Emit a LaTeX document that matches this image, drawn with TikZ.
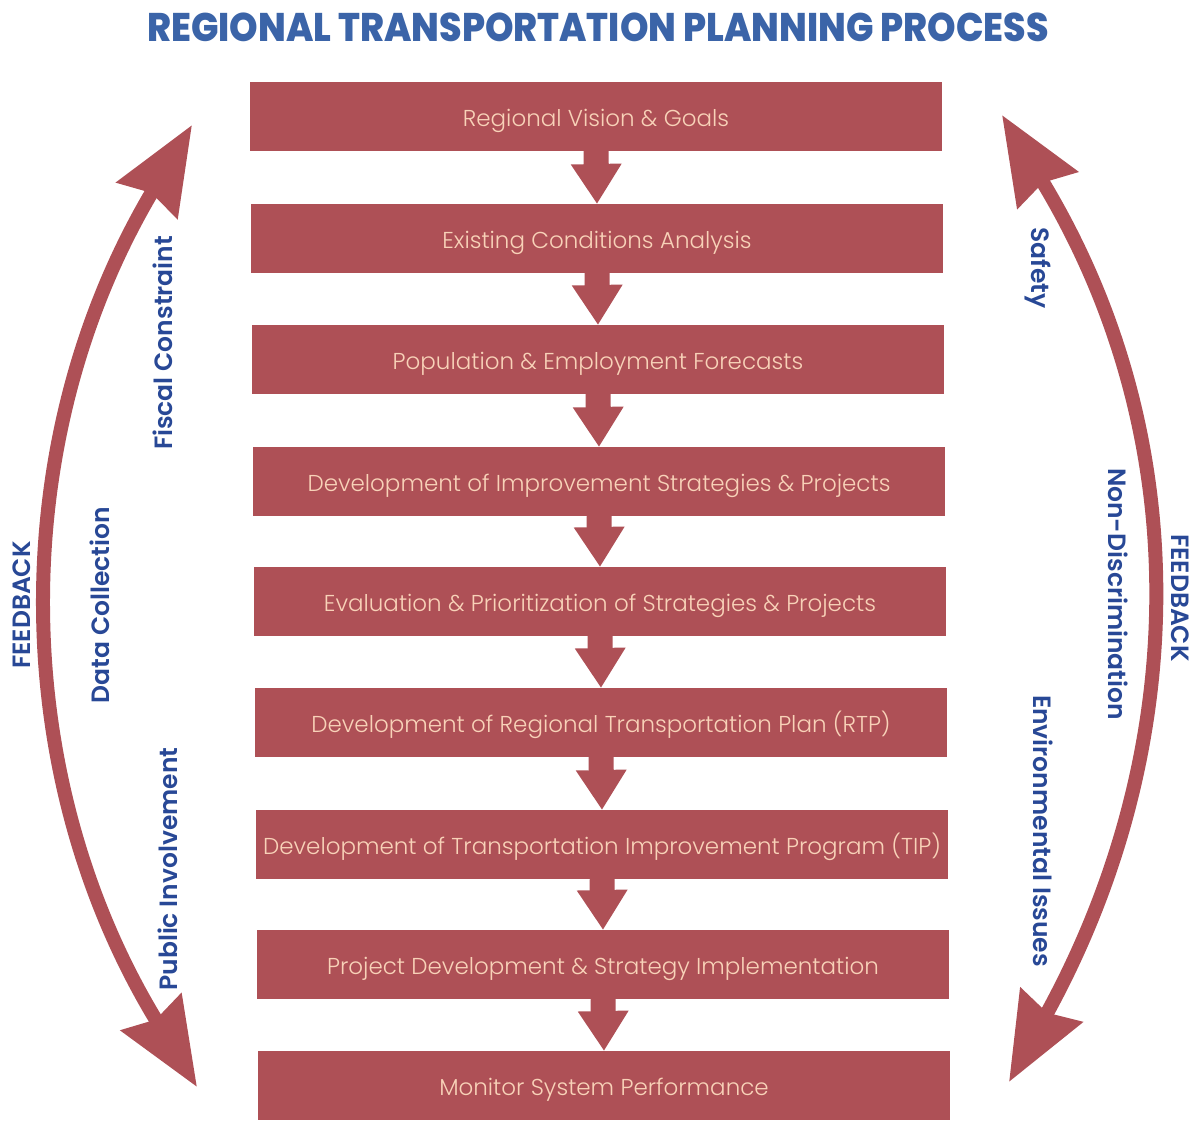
\documentclass[tikz,border=0pt]{standalone}
\usepackage{fontspec}
\usetikzlibrary{arrows.meta}
\setmainfont{Poppins}
\IfFontExistsTF{Poppins Light}{\newfontfamily\stepfont{Poppins Light}}{\newfontfamily\stepfont{Poppins}}
\IfFontExistsTF{Poppins SemiBold}{\newfontfamily\sidefont{Poppins SemiBold}}{\newfontfamily\sidefont{Poppins}[FakeBold=1]}
\IfFontExistsTF{Poppins ExtraBold}{\newfontfamily\headfont{Poppins ExtraBold}}{\newfontfamily\headfont{Poppins}[FakeBold=2]}

\definecolor{boxred}{RGB}{174,80,86}
\definecolor{peach}{RGB}{248,210,184}
\definecolor{headblue}{RGB}{59,100,168}
\definecolor{sideblue}{RGB}{40,72,150}

\tikzset{
  stepbox/.style={fill=boxred, minimum width=692pt, minimum height=69pt,
    inner sep=0pt, outer sep=0pt, text=peach,
    text height=22pt, text depth=2pt,
    font=\stepfont\fontsize{23}{27}\selectfont},
  flow/.style={draw=boxred, line width=25pt,
    -{Triangle[length=40pt,width=48pt]}},
  loopback/.style={draw=boxred, line width=14pt,
    {Stealth[length=87pt,width=69pt,inset=8pt]}-{Stealth[length=87pt,width=69pt,inset=8pt]}},
  sidelabel/.style={text=sideblue, inner sep=0pt,
    font=\sidefont\fontsize{25}{29}\selectfont},
}

\begin{document}
\begin{tikzpicture}[x=1pt,y=-1pt]
\useasboundingbox (0,0) rectangle (1196,1122);

% title
\node[text=headblue, font=\headfont\fontsize{36.3}{42}\selectfont, inner sep=0pt,
  yscale=1.1] (title) at (598,27) {REGIONAL TRANSPORTATION PLANNING PROCESS};

% process steps
\node[stepbox] (s1) at (596,116.5) {Regional Vision \& Goals};
\node[stepbox] (s2) at (597,238.5) {Existing Conditions Analysis};
\node[stepbox] (s3) at (598,359.5) {Population \& Employment Forecasts};
\node[stepbox] (s4) at (599,481.5) {Development of Improvement Strategies \& Projects};
\node[stepbox] (s5) at (600,601.5) {Evaluation \& Prioritization of Strategies \& Projects};
\node[stepbox] (s6) at (601,722.5) {Development of Regional Transportation Plan (RTP)};
\node[stepbox] (s7) at (602,844.5) {Development of Transportation Improvement Program (TIP)};
\node[stepbox] (s8) at (603,964.5) {Project Development \& Strategy Implementation};
\node[stepbox] (s9) at (604,1085.5) {Monitor System Performance};

% downward flow between steps
\foreach \a/\b in {s1/s2,s2/s3,s3/s4,s4/s5,s5/s6,s6/s7,s7/s8,s8/s9}
  \draw[flow] (\a.south) -- (\b.north);

% feedback loops
\coordinate (lt) at (192,125);
\coordinate (lb) at (197,1087);
\coordinate (rt) at (1002,115);
\coordinate (rb) at (1009,1082);
\draw[loopback] (lt) .. controls (3,442) and (8,778) .. (lb);
\draw[loopback] (rt) .. controls (1197,436) and (1191,752) .. (rb);

% left side labels
\node[sidelabel, rotate=90] (fiscal) at (163,343) {Fiscal Constraint};
\node[sidelabel, rotate=90] (fbl) at (22,605) {FEEDBACK};
\node[sidelabel, rotate=90] (data) at (100,605) {Data Collection};
\node[sidelabel, rotate=90] (public) at (168,869) {Public Involvement};

% right side labels
\node[sidelabel, rotate=-90] (safety) at (1038,268) {Safety};
\node[sidelabel, rotate=-90] (nondisc) at (1118,594) {Non-Discrimination};
\node[sidelabel, rotate=-90] (fbr) at (1180,598) {FEEDBACK};
\node[sidelabel, rotate=-90] (env) at (1043,831) {Environmental Issues};
\end{tikzpicture}
\end{document}
